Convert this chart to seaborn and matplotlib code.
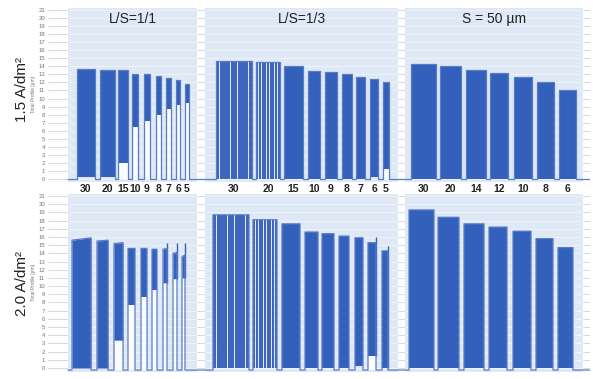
import numpy as np
import pandas as pd
import matplotlib
matplotlib.use("Agg")
import matplotlib.pyplot as plt
import seaborn as sns

# Panel titles and group labels (line width in um)
panel_titles = ["L/S=1/1", "L/S=1/3", "S = 50 µm"]
labels_11 = ["30", "20", "15", "10", "9", "8", "7", "6", "5"]
labels_13 = ["30", "20", "15", "10", "9", "8", "7", "6", "5"]
labels_s50 = ["30", "20", "14", "12", "10", "8", "6"]
row_titles = ["1.5 A/dm²", "2.0 A/dm²"]

# --- 1.5 A/dm2 : scan position of each line group, plated height, floor between lines
top_11_start = [77, 100, 118, 132, 144, 156, 166, 176, 185]
top_11_end = [95, 115, 128, 138, 150, 161, 171, 180, 189]
top_11_height = [13.7, 13.6, 13.5, 13.0, 13.0, 12.8, 12.6, 12.3, 11.8]
top_11_floor = [0.2, 0.2, 2.0, 6.4, 7.2, 8.0, 8.7, 9.2, 9.5]

top_13_start = [216, 256, 284, 308, 325, 342, 356, 370, 383]
top_13_end = [252, 280, 303, 320, 337, 352, 365, 378, 389]
top_13_height = [14.6, 14.5, 14.1, 13.4, 13.3, 13.0, 12.7, 12.4, 12.0]
top_13_floor = [0, 0, 0, 0, 0, 0, 0, 0.2, 1.2]
top_13_lines = [10, 9, 1, 1, 1, 1, 1, 1, 1]

top_s50_start = [411, 440, 466, 490, 514, 537, 559]
top_s50_end = [436, 461, 486, 508, 532, 554, 576]
top_s50_height = [14.3, 14.0, 13.5, 13.2, 12.7, 12.1, 11.1]

# --- 2.0 A/dm2
bot_11_start = [72, 97, 114, 128, 141, 152, 163, 173, 182]
bot_11_end = [91, 108, 123, 135, 147, 157, 167, 177, 185]
bot_11_height_left = [15.6, 15.5, 15.2, 14.6, 14.6, 14.5, 14.5, 14.0, 13.6]
bot_11_height_right = [15.9, 15.6, 15.3, 14.6, 14.6, 14.5, 14.6, 14.1, 13.8]
bot_11_floor = [0, 0, 3.4, 7.7, 8.7, 9.5, 10.4, 10.9, 11.0]
bot_11_spike = [np.nan, np.nan, np.nan, np.nan, np.nan, np.nan, 15.3, 15.2, 15.2]

bot_13_start = [213, 253, 282, 305, 322, 339, 355, 368, 382]
bot_13_end = [249, 277, 300, 318, 334, 349, 363, 376, 388]
bot_13_height = [18.7, 18.1, 17.6, 16.6, 16.4, 16.1, 15.9, 15.3, 14.3]
bot_13_floor = [0, 0, 0, 0, 0, 0, 0.3, 1.5, 0]
bot_13_spike = [np.nan, np.nan, np.nan, np.nan, np.nan, np.nan, np.nan, 16.0, 14.9]
bot_13_lines = [10, 9, 1, 1, 1, 1, 1, 1, 1]

bot_s50_start = [409, 438, 464, 489, 513, 536, 558]
bot_s50_end = [434, 459, 484, 507, 531, 553, 573]
bot_s50_height = [19.3, 18.4, 17.6, 17.2, 16.7, 15.8, 14.7]

panel_start = [68, 205, 405]
panel_end = [197, 398, 583]

FILL = "#3360ba"
LINE = "#5a7cc6"
PANEL = "#dfe9f6"
GRID = "#cdd5e0"


def make_groups(start, end, hl, hr=None, floor=None, spike=None, lines=None):
    n = len(start)
    return pd.DataFrame({
        "start": start, "end": end, "hl": hl,
        "hr": hr if hr is not None else hl,
        "floor": floor if floor is not None else [0] * n,
        "spike": spike if spike is not None else [np.nan] * n,
        "lines": lines if lines is not None else [1] * n,
    })


def draw_row(ax, groups, base):
    ax.set_xlim(48, 590)
    ax.set_yticks(range(0, 22))
    ax.yaxis.grid(True, color=GRID, lw=0.6, zorder=0)
    ax.xaxis.grid(False)
    for s, e in zip(panel_start, panel_end):
        ax.axvspan(s, e, color=PANEL, zorder=0.5, lw=0)
        # lighter grid lines inside the shaded panels
        ax.hlines(range(0, 22), s, e, color="#f4f8fd", lw=0.6, zorder=0.6)

    xs, ys = [panel_start[0]], [base]
    for g in groups.itertuples():
        xs += [g.start, g.start, g.end, g.end]
        ys += [base, g.hl, g.hr, base]
        if g.lines > 1:
            pitch = (g.end - g.start) / g.lines
            centers = np.linspace(g.start + pitch / 2, g.end - pitch / 2, g.lines)
            ax.bar(centers, g.hl - g.floor, bottom=g.floor, width=pitch * 0.85,
                   color="#3f66bd", lw=0, zorder=2)
        else:
            ax.fill_between([g.start, g.end], [g.floor, g.floor], [g.hl, g.hr],
                            color=FILL, lw=0, zorder=2)
        if g.floor > 0.5:
            ax.fill_between([g.start, g.end], base, g.floor, color="white",
                            alpha=0.85, lw=0, zorder=1.5)
        if not np.isnan(g.spike):
            ax.vlines(g.end - 0.4, g.floor, g.spike, color=FILL, lw=1.0, zorder=2.5)
    xs.append(590)
    ys.append(base)
    trace = pd.DataFrame({"x": xs, "y": ys})
    sns.lineplot(data=trace, x="x", y="y", sort=False, estimator=None,
                 color=LINE, lw=0.9, ax=ax, zorder=3)
    ax.set_xticks([])
    ax.set_xlabel("")
    ax.set_ylabel("Total Profile [µm]", fontsize=3.5, color="#777777", labelpad=2)
    ax.tick_params(axis="y", labelsize=4.3, labelcolor="#777777", length=0, pad=2)
    for sp in ax.spines.values():
        sp.set_visible(False)


sns.set_style("white")
plt.rcParams["font.family"] = ["Liberation Sans", "DejaVu Sans"]

fig = plt.figure(figsize=(5.93, 3.79), dpi=100)
ax_top = fig.add_axes([48 / 593, 0.5193, 542 / 593, 0.4607])
ax_bot = fig.add_axes([48 / 593, 0.0182, 542 / 593, 0.4712])

top_groups = pd.concat([
    make_groups(top_11_start, top_11_end, top_11_height, floor=top_11_floor),
    make_groups(top_13_start, top_13_end, top_13_height, floor=top_13_floor, lines=top_13_lines),
    make_groups(top_s50_start, top_s50_end, top_s50_height),
])
bot_groups = pd.concat([
    make_groups(bot_11_start, bot_11_end, bot_11_height_left, hr=bot_11_height_right,
                floor=bot_11_floor, spike=bot_11_spike),
    make_groups(bot_13_start, bot_13_end, bot_13_height, floor=bot_13_floor,
                spike=bot_13_spike, lines=bot_13_lines),
    make_groups(bot_s50_start, bot_s50_end, bot_s50_height),
])

draw_row(ax_top, top_groups, 0.0)
ax_top.set_ylim(-0.4, 21.3)
draw_row(ax_bot, bot_groups, -0.25)
ax_bot.set_ylim(-0.5, 21.3)

# panel titles
for s, e, t in zip(panel_start, panel_end, panel_titles):
    ax_top.text((s + e) / 2, 19.9, t, ha="center", va="center", fontsize=10, color="#222222",
                zorder=5)

# group labels between the rows
all_labels = labels_11 + labels_13 + labels_s50
centers = (top_groups["start"].to_numpy() + top_groups["end"].to_numpy()) / 2
for c, lab in zip(centers, all_labels):
    ax_top.text(c, -0.6, lab, ha="center", va="top", fontsize=7.5, fontweight="bold",
                color="#222222", clip_on=False)

fig.text(22 / 593, 1 - 90 / 379, row_titles[0], rotation=90, ha="center", va="center",
         fontsize=11, color="#222222")
fig.text(22 / 593, 1 - 283 / 379, row_titles[1], rotation=90, ha="center", va="center",
         fontsize=11, color="#222222")

fig.savefig("out.png", dpi=100)
